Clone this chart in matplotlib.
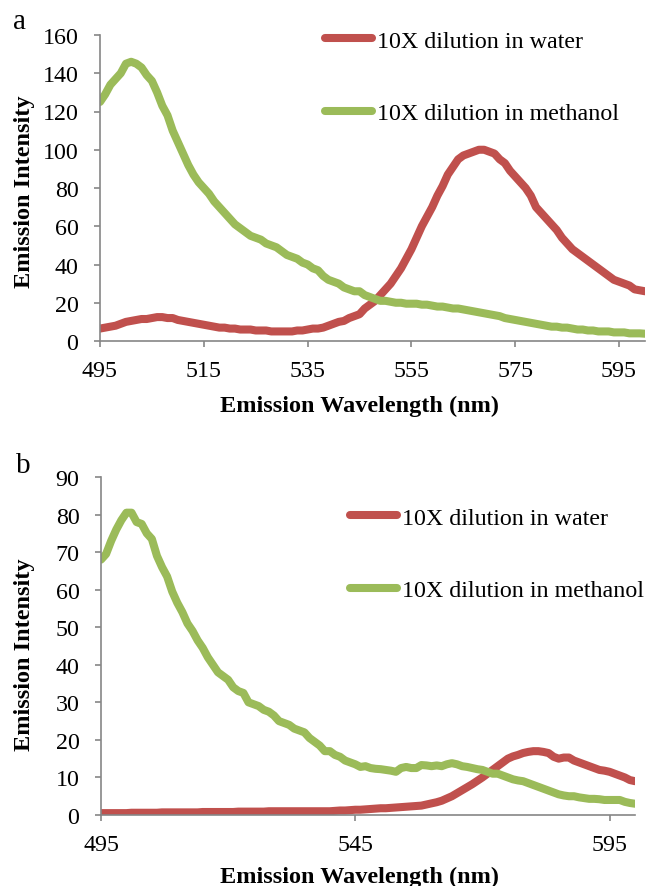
import numpy as np
import matplotlib
matplotlib.use("Agg")
import matplotlib.pyplot as plt

plt.rcParams['font.family'] = ['Liberation Serif', 'DejaVu Serif']

wavelength = list(range(495, 601))

# Panel a (one value per nm, 495..600)
a_water = [6.5, 7, 7.5, 8, 9, 10, 10.5, 11, 11.5, 11.5,
           12, 12.5, 12.5, 12, 12, 11, 10.5, 10, 9.5, 9,
           8.5, 8, 7.5, 7, 7, 6.5, 6.5, 6, 6, 6,
           5.5, 5.5, 5.5, 5, 5, 5, 5, 5, 5.5, 5.5,
           6, 6.5, 6.5, 7, 8, 9, 10, 10.5, 12, 13,
           14, 17, 19, 21, 24, 27, 30, 34, 38, 43,
           48, 54, 60, 65, 70, 76, 81, 87, 91, 95,
           97, 98, 99, 100, 100, 99, 98, 95, 93, 89,
           86, 83, 80, 76, 70, 67, 64, 61, 58, 54,
           51, 48, 46, 44, 42, 40, 38, 36, 34, 32,
           31, 30, 29, 27, 26.5, 26]
a_methanol = [125, 129, 134, 137, 140, 145, 146, 145, 143, 139,
              136, 130, 123, 118, 110, 104, 98, 92, 87, 83,
              80, 77, 73, 70, 67, 64, 61, 59, 57, 55,
              54, 53, 51, 50, 49, 47, 45, 44, 43, 41,
              40, 38, 37, 34, 32, 31, 30, 28, 27, 26,
              26, 24, 23, 22, 21, 21, 20.5, 20, 20, 19.5,
              19.5, 19.5, 19, 19, 18.5, 18, 18, 17.5, 17, 17,
              16.5, 16, 15.5, 15, 14.5, 14, 13.5, 13, 12, 11.5,
              11, 10.5, 10, 9.5, 9, 8.5, 8, 7.5, 7.5, 7,
              7, 6.5, 6, 6, 5.5, 5.5, 5, 5, 5, 4.5,
              4.5, 4.5, 4, 4, 4, 3.8]

# Panel b (one value per nm, 495..600)
b_water = [0.5, 0.5, 0.5, 0.5, 0.5, 0.5, 0.6, 0.6, 0.6, 0.6,
           0.6, 0.6, 0.7, 0.7, 0.7, 0.7, 0.7, 0.7, 0.7, 0.7,
           0.8, 0.8, 0.8, 0.8, 0.8, 0.8, 0.8, 0.9, 0.9, 0.9,
           0.9, 0.9, 0.9, 1.0, 1.0, 1.0, 1.0, 1.0, 1.0, 1.0,
           1.0, 1.0, 1.0, 1.0, 1.0, 1.0,
           1.1, 1.2, 1.2, 1.3, 1.4, 1.4, 1.5, 1.6, 1.7, 1.8,
           1.8, 1.9, 2.0, 2.1, 2.2, 2.3, 2.4, 2.5, 2.8, 3.1,
           3.4, 3.8, 4.4, 5.0, 5.8, 6.6, 7.4, 8.2, 9.1, 10,
           11, 12, 13, 14, 15, 15.6, 16, 16.5, 16.8, 17,
           17, 16.8, 16.5, 15.5, 15, 15.3, 15.3, 14.5, 14, 13.5,
           13, 12.5, 12, 11.8, 11.5, 11, 10.5, 10, 9.3, 9]
b_methanol = [68, 69.5, 73, 76, 78.5, 80.5, 80.5, 78, 77.5, 75,
              73.5, 69, 66, 63.5, 59.5, 56.5, 54, 51, 49, 46.5,
              44.5, 42, 40, 38, 37, 36, 34, 33, 32.5, 30,
              29.5, 29, 28, 27.5, 26.5, 25, 24.5, 24, 23, 22.5,
              22, 20.5, 19.5, 18.5, 17, 17, 16, 15.5, 14.5, 14,
              13.5, 12.8, 13, 12.5, 12.3, 12.2, 12, 11.8, 11.5, 12.5,
              12.8, 12.5, 12.5, 13.3, 13.2, 13, 13.2, 13, 13.5, 13.8,
              13.5, 13, 12.8, 12.5, 12.2, 12, 11.5, 11, 11, 10.5,
              10, 9.5, 9.2, 9, 8.5, 8, 7.5, 7, 6.5, 6,
              5.5, 5.2, 5, 5, 4.7, 4.5, 4.3, 4.3, 4.2, 4,
              4, 4, 4, 3.5, 3.2, 3]

labels = ["10X dilution in water", "10X dilution in methanol"]
a_xticks = [495, 515, 535, 555, 575, 595]
a_yticks = [0, 20, 40, 60, 80, 100, 120, 140, 160]
b_xticks = [495, 545, 595]
b_yticks = [0, 10, 20, 30, 40, 50, 60, 70, 80, 90]

RED = '#C0504D'
GREEN = '#9BBB59'
GRAY = '#868686'
W, H = 649, 887
FS = 17.3
LW = 5.8

fig = plt.figure(figsize=(W / 100, H / 100), dpi=100)


def make_axes(l, r, t, b):
    return fig.add_axes([l / W, 1 - b / H, (r - l) / W, (b - t) / H])


def style(ax, xticks, yticks, ylim, leg_xy, xlab, ylab):
    ax.set_xlim(495, 600)
    ax.set_ylim(*ylim)
    ax.set_xticks(xticks)
    ax.set_yticks(yticks)
    for s in ['top', 'right']:
        ax.spines[s].set_visible(False)
    for s in ['left', 'bottom']:
        ax.spines[s].set_color(GRAY)
        ax.spines[s].set_linewidth(1.2)
    ax.tick_params(axis='both', direction='out', color=GRAY, width=1.2,
                   length=4.5, labelsize=FS, labelcolor='black')
    ax.tick_params(axis='x', pad=9)
    ax.tick_params(axis='y', pad=11)
    ax.set_xlabel("Emission Wavelength (nm)", fontsize=17.5, fontweight='bold', va='center')
    ax.set_ylabel("Emission Intensity", fontsize=17.5, fontweight='bold', va='center')
    ax.xaxis.set_label_coords(*xlab)
    ax.yaxis.set_label_coords(*ylab)
    ax.legend(loc='upper left', bbox_to_anchor=leg_xy,
              bbox_transform=fig.transFigure, frameon=False,
              fontsize=FS, handlelength=1.95, handletextpad=0.2,
              labelspacing=2.1, borderpad=0, borderaxespad=0)


x = np.array(wavelength)

# Panel a
ax1 = make_axes(100, 645, 36, 342)
ax1.plot(x, a_water, color=RED, lw=LW, solid_capstyle='round',
         solid_joinstyle='round', label=labels[0])
ax1.plot(x, a_methanol, color=GREEN, lw=LW, solid_capstyle='round',
         solid_joinstyle='round', label=labels[1])
style(ax1, a_xticks, a_yticks, (0, 160), (325 / W, 1 - 31 / H),
      ((360 - 100) / 545, (342 - 406) / 306), ((25 - 100) / 545, (342 - 192) / 306))

# Panel b
ax2 = make_axes(101, 635, 478, 816)
ax2.plot(x, b_water, color=RED, lw=LW, solid_capstyle='round',
         solid_joinstyle='round', label=labels[0])
ax2.plot(x, b_methanol, color=GREEN, lw=LW, solid_capstyle='round',
         solid_joinstyle='round', label=labels[1])
style(ax2, b_xticks, b_yticks, (0, 90), (350 / W, 1 - 508 / H),
      ((360 - 101) / 534, (816 - 877) / 338), ((25 - 101) / 534, (816 - 655) / 338))

fig.text(20 / W, 1 - 22 / H, "a", fontsize=21, ha='center', va='center')
fig.text(23 / W, 1 - 466 / H, "b", fontsize=21, ha='center', va='center')

fig.savefig("out.png", dpi=100)
